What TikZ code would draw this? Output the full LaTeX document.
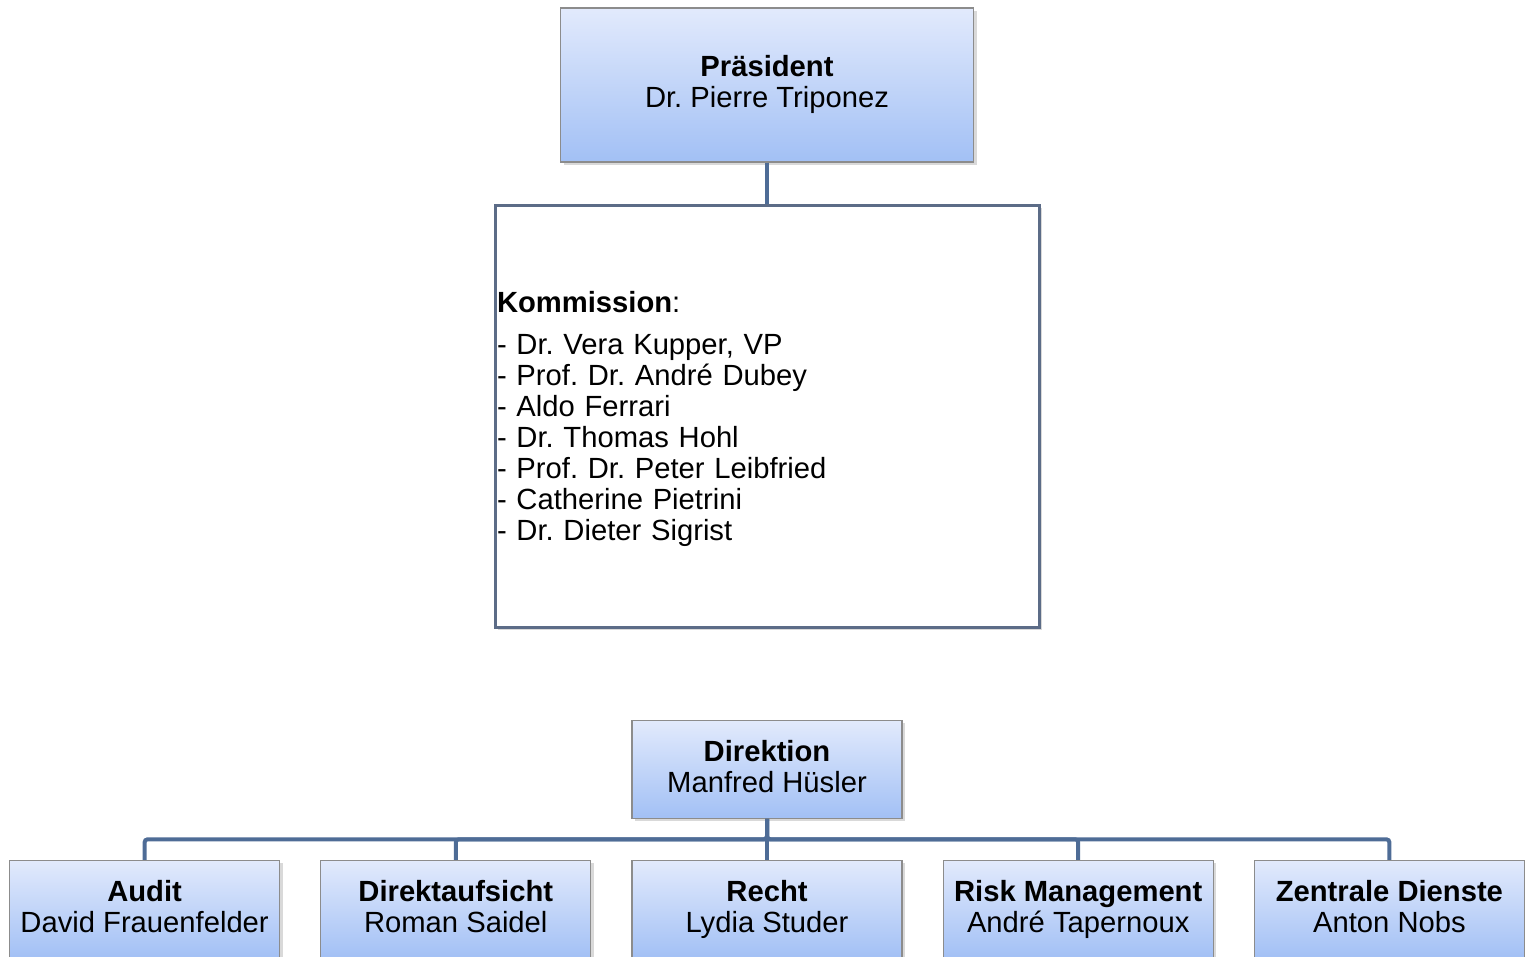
\documentclass[tikz,border=0pt]{standalone}
\usepackage{fontspec}
\setmainfont{Liberation Sans}
\usetikzlibrary{positioning,shadows,calc}
\definecolor{boxtop}{RGB}{226,234,252}
\definecolor{boxbottom}{RGB}{162,192,245}
\definecolor{boxline}{RGB}{140,140,140}
\definecolor{linkblue}{RGB}{78,108,150}
\definecolor{komline}{RGB}{92,108,135}
\newcommand{\unitstrut}{\rule[-3.2pt]{0pt}{12.3pt}}
\newcommand{\unitlabel}[2]{\unitstrut\textbf{#1}\\\unitstrut#2}

\begin{document}
\frenchspacing
\begin{tikzpicture}[
    x=0.5pt, y=-0.5pt,
    font=\fontsize{14.6}{15.5}\selectfont,
    unit/.style={rectangle, draw=boxline, line width=0.6pt, top color=boxtop, bottom color=boxbottom,
        align=center, inner sep=0pt, drop shadow={opacity=0.3, shadow xshift=1.5pt, shadow yshift=-1.5pt}},
    dept/.style={unit, minimum width=135pt, minimum height=49pt},
    link/.style={draw=linkblue, line width=2pt, rounded corners=1.5pt}
]
    \clip (0,0) rectangle (1525,957);

    % Praesident
    \node[unit, minimum width=206.5pt, minimum height=77pt] (pres) at (767,85)
        {\unitlabel{Präsident}{Dr. Pierre Triponez}};

    % Kommission
    \node[below=20.5pt of pres, draw=komline, line width=1.5pt, fill=white, minimum height=211pt,
        text width=270pt, inner xsep=1pt, align=left,
        drop shadow={opacity=0.3, shadow xshift=1.5pt, shadow yshift=-1.5pt}] (kom)
        {\rule{0pt}{13pt}\textbf{Kommission}:\\[5.5pt]
         - Dr. Vera Kupper, VP\\
         - Prof. Dr. André Dubey\\
         - Aldo Ferrari\\
         - Dr. Thomas Hohl\\
         - Prof. Dr. Peter Leibfried\\
         - Catherine Pietrini\\
         - Dr. Dieter Sigrist};

    % Direktion
    \node[dept, below=45.5pt of kom] (dir) {\unitlabel{Direktion}{Manfred Hüsler}};

    % Abteilungen
    \node[dept, below=20.5pt of dir] (recht) {\unitlabel{Recht}{Lydia Studer}};
    \node[dept, left=20pt of recht] (aufsicht) {\unitlabel{Direktaufsicht}{Roman Saidel}};
    \node[dept, left=20pt of aufsicht] (audit) {\unitlabel{Audit}{David Frauenfelder}};
    \node[dept, right=20pt of recht] (risk) {\unitlabel{Risk Management}{André Tapernoux}};
    \node[dept, right=20pt of risk] (zentral) {\unitlabel{Zentrale Dienste}{Anton Nobs}};

    % Edges
    \coordinate (bus) at ($(dir.south)!0.5!(recht.north)$);
    \draw[link] (pres) -- (kom);
    \draw[link] (dir) -- (recht);
    \foreach \d in {audit,aufsicht,risk,zentral}
        \draw[link] (dir.south) -- (bus) -| (\d.north);
\end{tikzpicture}
\end{document}
